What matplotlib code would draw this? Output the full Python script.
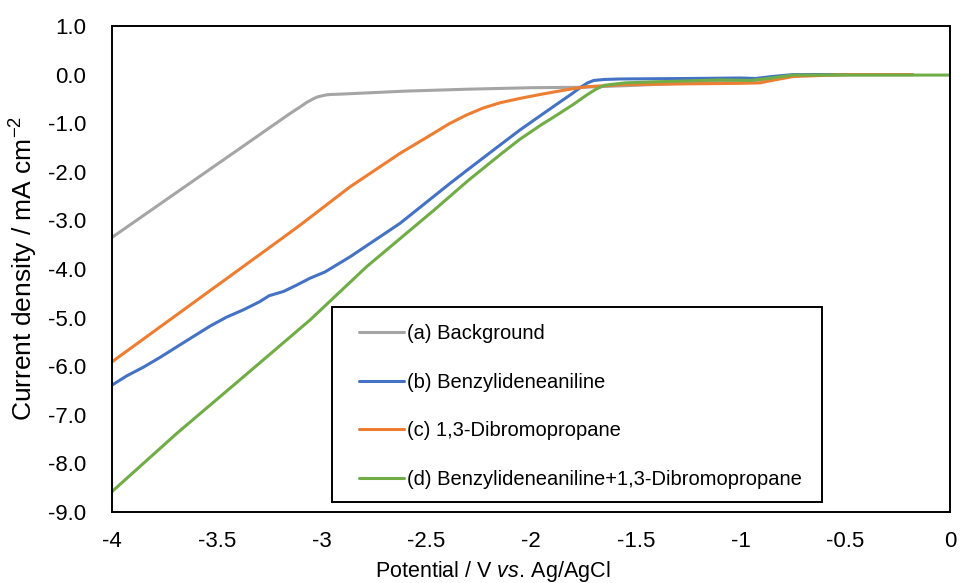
import matplotlib
matplotlib.use("Agg")
import matplotlib.pyplot as plt
from matplotlib.patches import Rectangle

plt.rcParams['font.family'] = ['Liberation Sans', 'DejaVu Sans']
plt.rcParams['mathtext.fontset'] = 'custom'
plt.rcParams['mathtext.rm'] = 'Liberation Sans'
plt.rcParams['mathtext.it'] = 'Liberation Sans:italic'
plt.rcParams['axes.unicode_minus'] = False

# ---- data ----
labels = ["(a) Background", "(b) Benzylideneaniline", "(c) 1,3-Dibromopropane",
          "(d) Benzylideneaniline+1,3-Dibromopropane"]
colors = ["#A5A5A5", "#4472C4", "#ED7D31", "#70AD47"]

x_a = [-4.0, -3.7, -3.4, -3.2, -3.15, -3.1, -3.07, -3.04, -3.02, -2.98, -2.96, -2.9,
       -2.6, -2.3, -2.0, -1.75, -1.5, -1.25, -1.0, -0.85, -0.75, -0.5, -0.18]
y_a = [-3.35, -2.45, -1.55, -0.95, -0.80, -0.66, -0.57, -0.50, -0.46, -0.42, -0.41,
       -0.40, -0.34, -0.30, -0.27, -0.26, -0.22, -0.17, -0.13, -0.10, -0.02, 0.0, 0.0]

x_b = [-4.0, -3.93, -3.85, -3.771, -3.69, -3.612, -3.53, -3.453, -3.373, -3.294,
       -3.25, -3.18, -3.118, -3.055, -2.983, -2.864, -2.625, -2.387, -2.3, -2.148,
       -2.053, -1.957, -1.894, -1.80, -1.766, -1.73, -1.70, -1.65, -1.575, -1.25,
       -1.0, -0.93, -0.85, -0.75, -0.5, -0.18]
y_b = [-6.39, -6.20, -6.02, -5.82, -5.60, -5.39, -5.17, -4.99, -4.84, -4.67,
       -4.55, -4.46, -4.33, -4.19, -4.06, -3.75, -3.06, -2.24, -1.95, -1.45,
       -1.14, -0.85, -0.66, -0.38, -0.27, -0.17, -0.12, -0.10, -0.09, -0.08,
       -0.07, -0.08, -0.04, 0.0, 0.0, 0.0]

x_c = [-4.0, -3.198, -3.10, -2.864, -2.625, -2.466, -2.39, -2.307, -2.23, -2.148,
       -2.053, -1.957, -1.894, -1.80, -1.734, -1.575, -1.25, -1.0, -0.907, -0.85,
       -0.749, -0.5, -0.18]
y_c = [-5.91, -3.40, -3.09, -2.31, -1.62, -1.21, -1.01, -0.83, -0.69, -0.58,
       -0.49, -0.41, -0.36, -0.29, -0.25, -0.21, -0.19, -0.18, -0.17, -0.12,
       -0.04, 0.0, 0.0]

x_d = [-4.0, -3.69, -3.373, -3.055, -2.784, -2.466, -2.3, -2.148, -2.053, -1.95,
       -1.894, -1.80, -1.734, -1.69, -1.65, -1.55, -1.418, -1.098, -0.95, -0.85,
       -0.749, -0.5, 0.0]
y_d = [-8.58, -7.38, -6.22, -5.05, -3.95, -2.80, -2.18, -1.65, -1.33, -1.03,
       -0.88, -0.62, -0.42, -0.30, -0.22, -0.17, -0.15, -0.11, -0.12, -0.07,
       -0.01, -0.01, -0.01]

x_ticks = [-4, -3.5, -3, -2.5, -2, -1.5, -1, -0.5, 0]
y_ticks = [1, 0, -1, -2, -3, -4, -5, -6, -7, -8, -9]

# ---- figure ----
fig = plt.figure(figsize=(9.6, 5.83), dpi=100)
ax = fig.add_axes([112/960, 1 - 512/583, (950-112)/960, (512-26)/583])

series = [(x_a, y_a), (x_b, y_b), (x_c, y_c), (x_d, y_d)]
handles = []
for (xs, ys), c, lab in zip(series, colors, labels):
    h, = ax.plot(xs, ys, color=c, lw=2.2, label=lab, solid_joinstyle='round',
                 solid_capstyle='round')
    handles.append(h)

ax.set_xlim(-4, 0)
ax.set_ylim(-9, 1)
ax.set_xticks(x_ticks)
ax.set_xticklabels([f"{v:g}" for v in x_ticks])
ax.set_yticks(y_ticks)
ax.set_yticklabels([f"{v:.1f}" for v in y_ticks])
ax.tick_params(axis='both', length=0, labelsize=16, colors='black')
ax.tick_params(axis='y', pad=18.5)
ax.tick_params(axis='x', pad=14)
for s in ax.spines.values():
    s.set_color('black')
    s.set_linewidth(1.4)

fig.text(24/960, 1 - 268/583, "Current density / mA cm$^{-2}$", rotation=90,
         ha='center', va='center', fontsize=19)
fig.text(493/960, 1 - 571/583, "Potential / V $\\mathit{vs.}\\,$Ag/AgCl",
         ha='center', va='center', fontsize=15.5)

# legend: frame drawn manually
leg = fig.legend(handles=handles, labels=labels, loc='upper left',
                 bbox_to_anchor=(359/960, 1 - 324/583), frameon=False,
                 fontsize=14.5, handlelength=2.25, handletextpad=0.15,
                 labelspacing=1.47, borderpad=0, borderaxespad=0)
fig.add_artist(Rectangle((332/960, 1 - 502/583), (822-332)/960, (502-307)/583,
                         transform=fig.transFigure, fill=True, facecolor='white',
                         edgecolor='black', lw=1.4, zorder=2))
leg.set_zorder(3)

fig.savefig("out.png", dpi=100)
